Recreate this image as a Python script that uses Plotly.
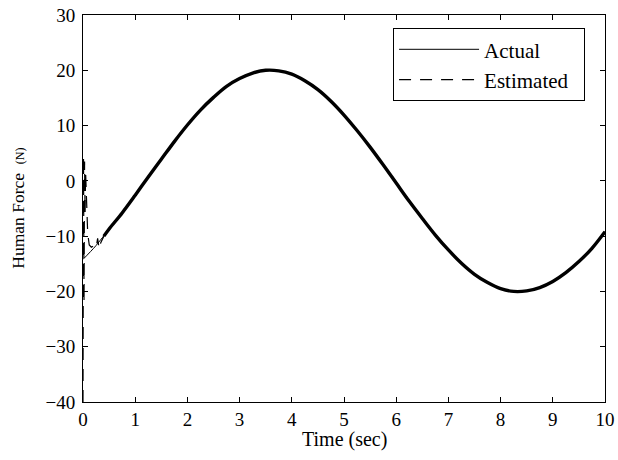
import plotly.graph_objects as go

# Actual human force
t_act = [0, 0.25, 0.5, 0.75, 1.0, 1.25, 1.5, 1.75, 2.0, 2.25, 2.5, 2.75, 3.0, 3.25, 3.5, 3.75,
         4.0, 4.25, 4.5, 4.75, 5.0, 5.25, 5.5, 5.75, 6.0, 6.25, 6.5, 6.75, 7.0, 7.25, 7.5, 7.75,
         8.0, 8.25, 8.5, 8.75, 9.0, 9.25, 9.5, 9.75, 10.0]
f_act = [-14.2, -11.7, -8.7, -5.8, -2.6, 0.7, 3.9, 7.1, 10.1, 12.8, 15.1, 17.1, 18.5, 19.5, 20.0, 19.9,
         19.3, 18.1, 16.5, 14.4, 11.9, 9.1, 6.1, 2.9, -0.4, -3.7, -6.8, -9.8, -12.5, -14.9, -16.9, -18.4,
         -19.5, -20.0, -19.9, -19.3, -18.2, -16.6, -14.6, -12.2, -9.2]

# Estimated human force: initial transient then tracks actual
t_est_start = [0, 0.01, 0.02, 0.03, 0.04, 0.05, 0.07, 0.09, 0.12, 0.16, 0.2, 0.25, 0.28, 0.31, 0.34, 0.4]
f_est_start = [-40, 4.5, -22, 3.5, -6, 1.5, -5, -9.5, -11.6, -12.0, -11.8, -12.2, -10.4, -12.3, -11.2, -10.0]
t_est = t_est_start + t_act[2:]
f_est = f_est_start + f_act[2:]

x_ticks = [0, 1, 2, 3, 4, 5, 6, 7, 8, 9, 10]
y_ticks = [-40, -30, -20, -10, 0, 10, 20, 30]
y_tick_text = ["\u221240", "\u221230", "\u221220", "\u221210", "0", "10", "20", "30"]

FONT = "Liberation Serif, Times New Roman, serif"

fig = go.Figure()
# thick band representing the noisy overlapped estimate
k = len(t_est_start) - 1
fig.add_trace(go.Scatter(x=t_est[k:], y=f_est[k:], mode="lines",
                         line=dict(color="black", width=3.4, shape="spline"), showlegend=False,
                         hoverinfo="skip"))
fig.add_trace(go.Scatter(x=t_act, y=f_act, mode="lines", name="Actual\u00a0\u00a0",
                         line=dict(color="black", width=1, shape="spline")))
fig.add_trace(go.Scatter(x=t_est, y=f_est, mode="lines", name="Estimated\u00a0\u00a0",
                         line=dict(color="black", width=1.2, dash="12px,9px")))

axis_common = dict(showgrid=False, zeroline=False, showline=True, linecolor="black", linewidth=1,
                   mirror="ticks", ticks="inside", ticklen=5, tickcolor="black", automargin=False,
                   ticklabeloverflow="allow",
                   tickfont=dict(family=FONT, size=19, color="black"))

fig.update_xaxes(range=[0, 10], tickvals=x_ticks, ticklabelstandoff=0, **axis_common)
fig.update_yaxes(range=[-40, 30], tickvals=y_ticks, ticktext=y_tick_text, ticklabelstandoff=3,
                 **axis_common)

fig.add_annotation(text="Time (sec)", xref="paper", yref="paper", x=0.5, y=0,
                   xanchor="center", yanchor="middle", yshift=-37, showarrow=False,
                   font=dict(family=FONT, size=20, color="black"))
fig.add_annotation(text="Human Force  <span style='font-size:12px'>(N)</span>", xref="paper", yref="paper",
                   x=-0.126, y=0.5, xanchor="center", yanchor="middle", textangle=-90, showarrow=False,
                   font=dict(family=FONT, size=17.5, color="black"))

fig.update_layout(
    width=618, height=460,
    margin=dict(l=83, r=13, t=15, b=58),
    plot_bgcolor="white", paper_bgcolor="white",
    font=dict(family=FONT, size=19, color="black"),
    legend=dict(x=0.594, y=0.966, xanchor="left", yanchor="top",
                bordercolor="black", borderwidth=1, bgcolor="white",
                font=dict(family=FONT, size=21, color="black"),
                itemwidth=80, tracegroupgap=0),
)

fig.write_html("out.html", config={"displayModeBar": False, "staticPlot": True},
               post_script="document.body.style.margin='0';document.body.style.overflow='hidden';")
